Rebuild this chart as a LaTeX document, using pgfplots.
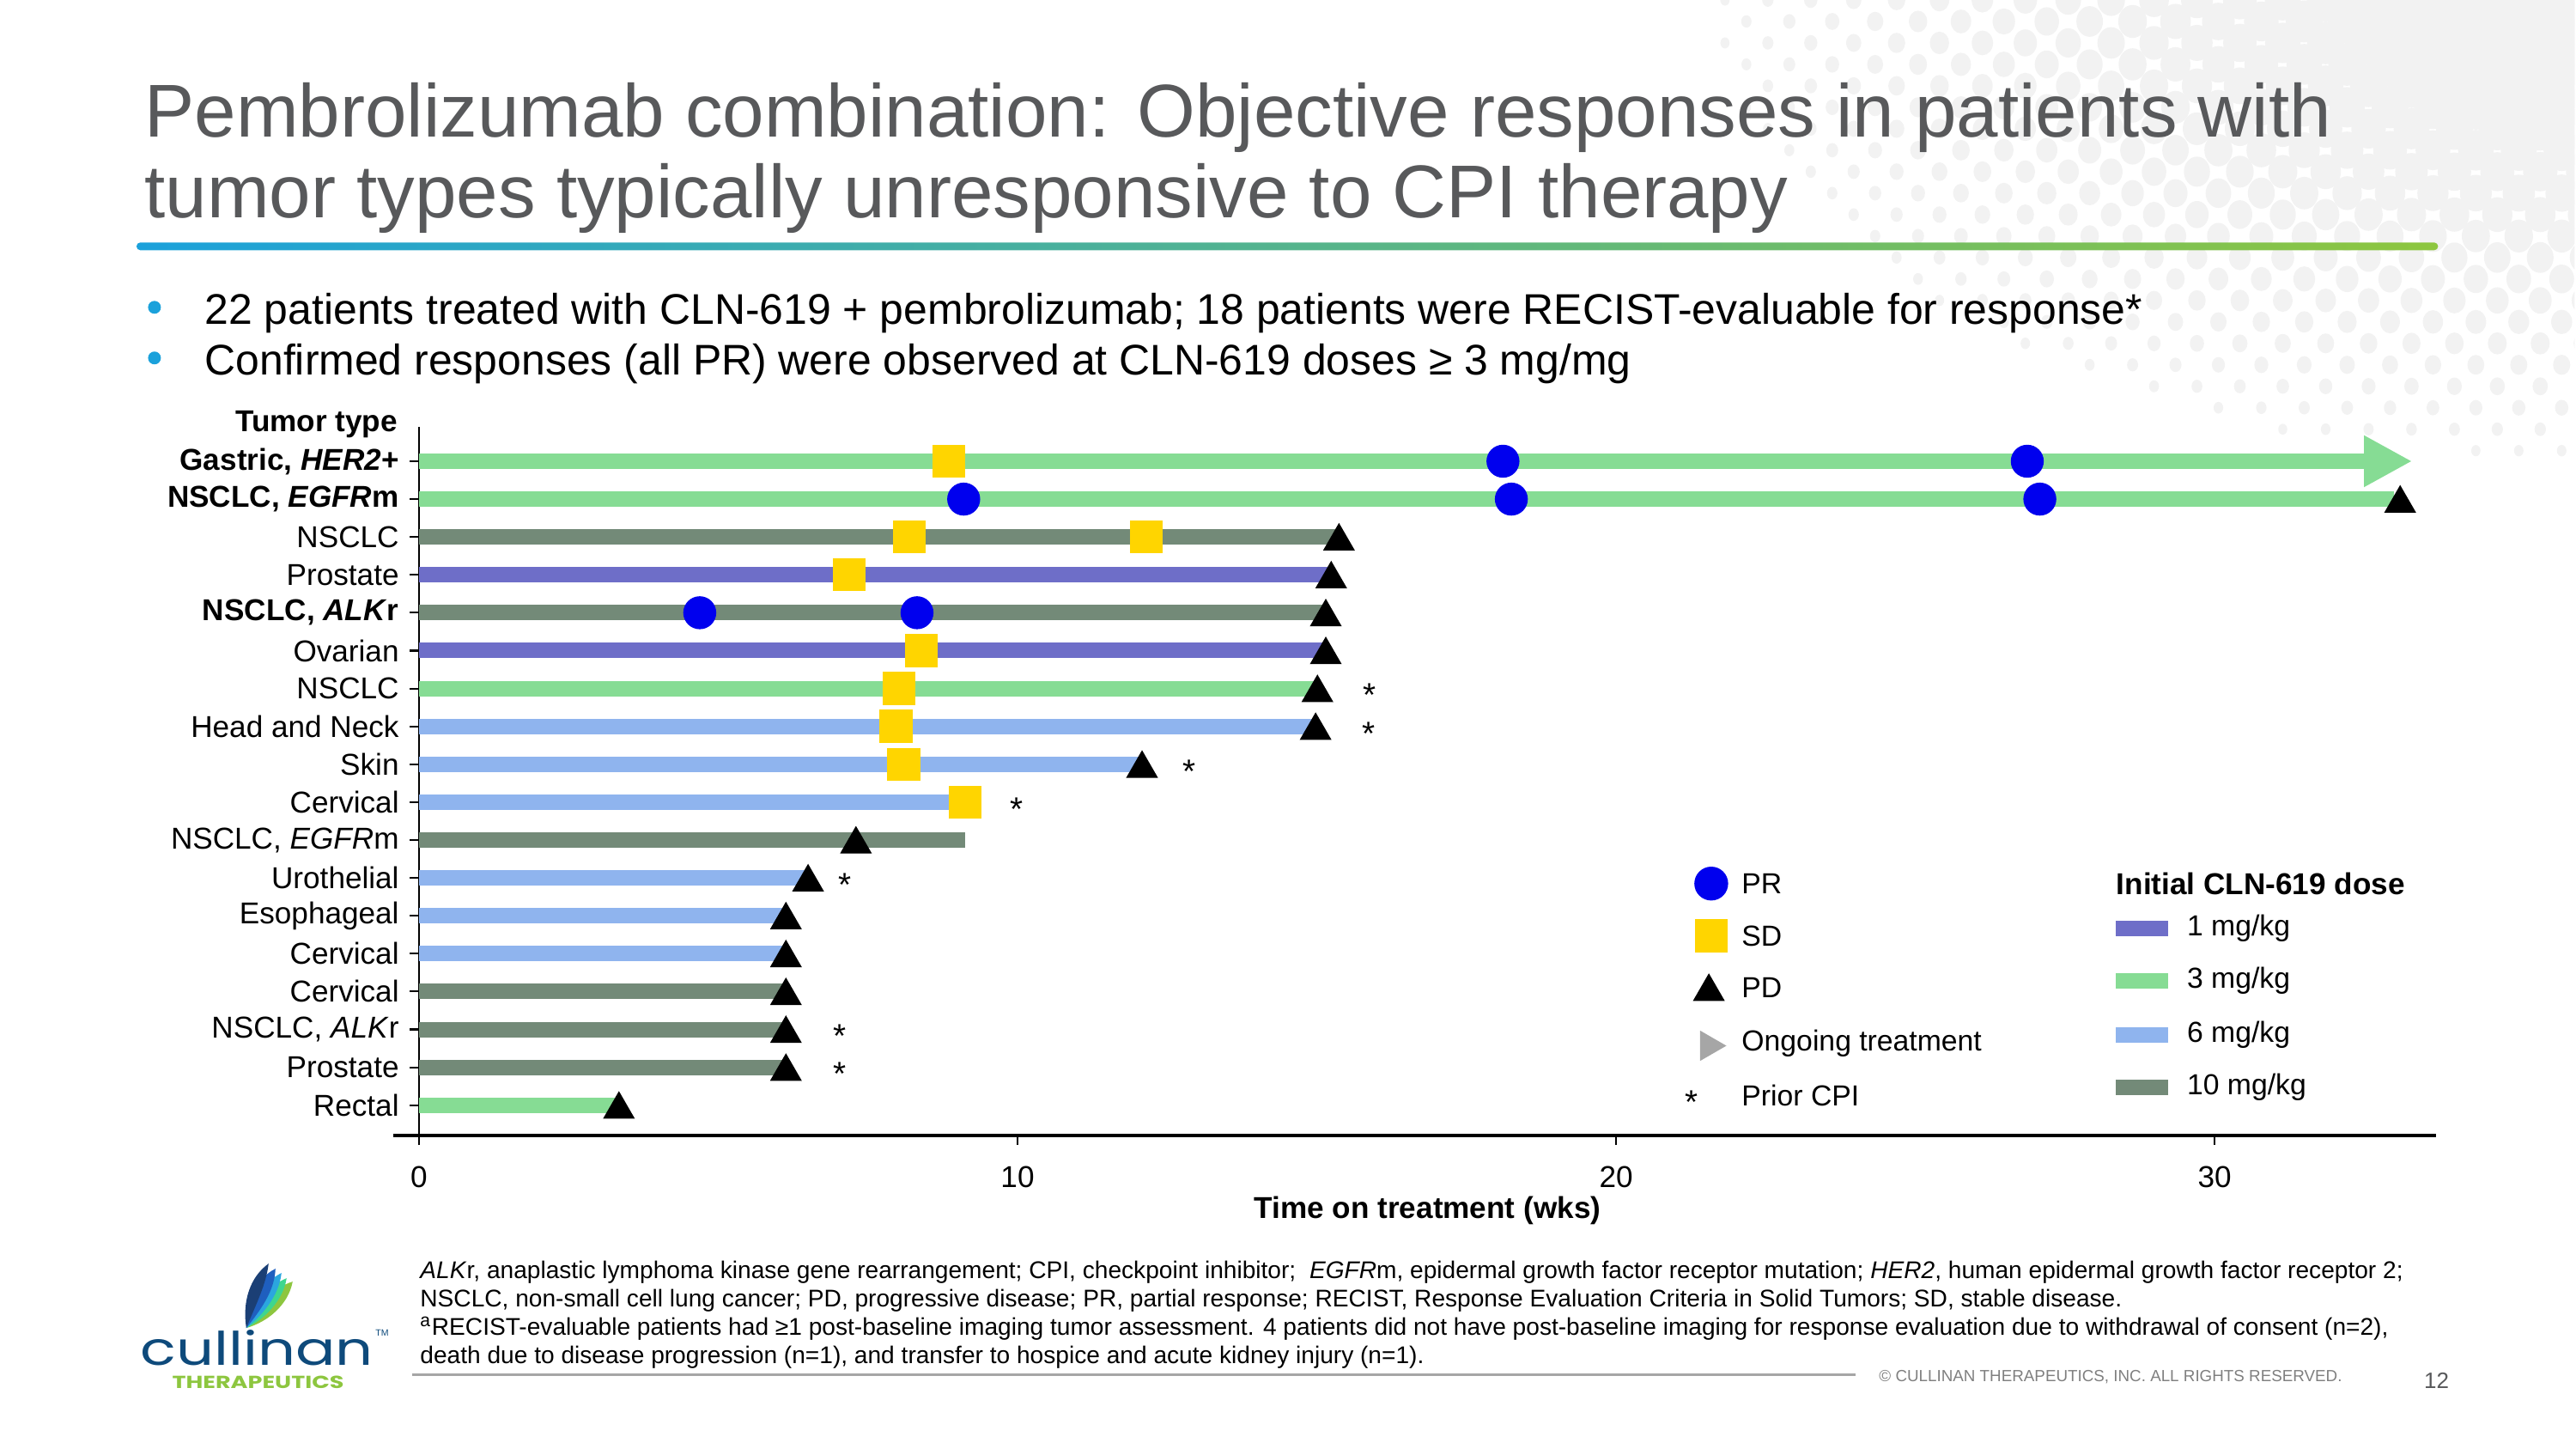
\documentclass[border=0pt]{standalone}
\usepackage{fontspec}
\setmainfont{Liberation Sans}
\newfontfamily\logofont{Poppins}
\usepackage{graphicx}
\usepackage{pgfplots}
\pgfplotsset{compat=1.18}
\usetikzlibrary{arrows.meta}

\definecolor{titlegray}{HTML}{58595B}
\definecolor{lineblue}{HTML}{1BA1DB}
\definecolor{linegreen}{HTML}{8DC63F}
\definecolor{dotgray}{HTML}{F2F2F2}
\definecolor{dose1}{HTML}{6E6EC8}
\definecolor{dose3}{HTML}{86DC94}
\definecolor{dose6}{HTML}{8FB4EE}
\definecolor{dose10}{HTML}{738A78}
\definecolor{sdyellow}{HTML}{FFD500}
\definecolor{prblue}{HTML}{0000EE}
\definecolor{ongray}{HTML}{A6A6A6}
\definecolor{rulegray}{HTML}{A6A6A6}
\definecolor{copygray}{HTML}{7F7F7F}
\definecolor{logonavy}{HTML}{0E4A7B}
\definecolor{leafnavy}{HTML}{1B3F75}
\definecolor{leafblue}{HTML}{1F5FBF}
\definecolor{leafcyan}{HTML}{2BA6DF}
\definecolor{leafteal}{HTML}{3ED68F}

\newcommand{\labfont}{\fontsize{10pt}{12pt}\selectfont}
\newcommand{\legfont}{\fontsize{9.6pt}{11pt}\selectfont}
\newcommand{\notefont}{\fontsize{8pt}{9.6pt}\selectfont}
\newcommand{\bulfont}{\fontsize{14.2pt}{14.2pt}\selectfont}

\pgfplotsset{
  bar/.style={line width=0.18cm, unbounded coords=jump},
  cpi/.style={only marks, mark=text, text mark as node=true,
    text mark={\fontsize{11pt}{11pt}\selectfont *},
    text mark style={inner sep=0pt, yshift=-0.08cm}},
}

\begin{document}
\begin{tikzpicture}
\path[use as bounding box] (0,0) rectangle (30cm,-16.87cm);

\begin{scope}[x=0.01cm,y=-0.01cm]
  % halftone dots, top right
  \begin{scope}
    \clip (1900,0) rectangle (3000,600);
    \foreach \j in {0,...,24}{
      \foreach \i in {0,...,22}{
        \pgfmathsetmacro{\xx}{3010-\i*50-mod(\j,2)*25}
        \pgfmathsetmacro{\yy}{\j*25}
        \pgfmathsetmacro{\sz}{1-sqrt(((3000-\xx)/1050)^2+(\yy/560)^2)}
        \ifdim\sz pt>0.05pt
          \fill[dotgray] (\xx,\yy) ellipse ({4+25*\sz} and {5+28*\sz});
        \fi
      }
    }
  \end{scope}

  % title
  \node[anchor=base west, inner sep=0, text=titlegray, font=\fontsize{24.8pt}{24.8pt}\selectfont]
    at (168,160) {Pembrolizumab combination: Objective responses in patients with};
  \node[anchor=base west, inner sep=0, text=titlegray, font=\fontsize{24.8pt}{24.8pt}\selectfont]
    at (168,254) {tumor types typically unresponsive to CPI therapy};
  \shade[left color=lineblue, right color=linegreen, rounded corners=0.045cm]
    (159,282.5) rectangle (2841,291.5);

  % bullets
  \fill[lineblue] (180,358) circle (7.5);
  \fill[lineblue] (180,417) circle (7.5);
  \node[anchor=base west, inner sep=0, font=\bulfont] at (238,378)
    {22 patients treated with CLN-619 + pembrolizumab; 18 patients were RECIST-evaluable for response*};
  \node[anchor=base west, inner sep=0, font=\bulfont] at (238,437)
    {Confirmed responses (all PR) were observed at CLN-619 doses ≥ 3 mg/mg};

  \node[anchor=base east, inner sep=0, font=\bfseries\labfont] at (464,503) {Tumor type};

  % footnotes
  \node[anchor=base west, inner sep=0, font=\notefont] at (489,1489)
    {\textit{ALK}r, anaplastic lymphoma kinase gene rearrangement; CPI, checkpoint inhibitor;\ \ \textit{EGFR}m, epidermal growth factor receptor mutation; \textit{HER2}, human epidermal growth factor receptor 2;};
  \node[anchor=base west, inner sep=0, font=\notefont] at (489,1522)
    {NSCLC, non-small cell lung cancer; PD, progressive disease; PR, partial response; RECIST, Response Evaluation Criteria in Solid Tumors; SD, stable disease.};
  \node[anchor=base west, inner sep=0, font=\notefont] at (489,1555)
    {\textsuperscript{a}RECIST-evaluable patients had ≥1 post-baseline imaging tumor assessment. 4 patients did not have post-baseline imaging for response evaluation due to withdrawal of consent (n=2),};
  \node[anchor=base west, inner sep=0, font=\notefont] at (489,1588)
    {death due to disease progression (n=1), and transfer to hospice and acute kidney injury (n=1).};
  \draw[rulegray, line width=0.03cm] (480,1601) -- (2162,1601);
  \node[anchor=base west, inner sep=0, text=copygray, font=\fontsize{5.35pt}{6pt}\selectfont] at (2189,1609)
    {\textcopyright{} CULLINAN THERAPEUTICS, INC. ALL RIGHTS RESERVED.};
  \node[anchor=base west, inner sep=0, text=titlegray, font=\fontsize{7.4pt}{8pt}\selectfont] at (2824,1617) {12};

  % logo
  \fill[linegreen] (287,1547) .. controls (300,1520) and (318,1500) .. (341,1493) .. controls (336,1520) and (312,1540) .. (287,1547);
  \fill[leafteal] (287,1547) .. controls (297,1518) and (312,1498) .. (334,1489) .. controls (330,1515) and (308,1537) .. (287,1547);
  \fill[leafcyan] (287,1547) .. controls (295,1515) and (307,1493) .. (328,1483) .. controls (325,1510) and (305,1533) .. (287,1547);
  \fill[leafblue] (287,1547) .. controls (291,1512) and (300,1488) .. (321,1478) .. controls (320,1505) and (302,1528) .. (287,1547);
  \fill[leafnavy] (287,1547) .. controls (282,1515) and (292,1487) .. (313,1472) .. controls (310,1497) and (298,1520) .. (287,1547);
  \node[anchor=base west, inner sep=0, text=logonavy] at (163,1590)
    {\resizebox{2.71cm}{0.41cm}{\logofont cullinan}};
  \node[anchor=base west, inner sep=0, text=logonavy, font=\fontsize{3pt}{3pt}\selectfont] at (437,1556) {TM};
  \node[anchor=base west, inner sep=0, text=linegreen] at (200,1617)
    {\resizebox{2.0cm}{0.145cm}{\logofont\bfseries THERAPEUTICS}};
\end{scope}

\begin{axis}[
  at={(4.88cm,-13.22cm)}, anchor=south west,
  scale only axis, width=23.49cm, height=8.247cm,
  xmin=0, xmax=33.7, ymin=0.2, ymax=18.9,
  axis lines*=left, clip=false,
  x axis line style={line width=1.2pt},
  y axis line style={line width=0.8pt},
  tick align=outside, major tick length=0.11cm,
  tick style={black, line width=0.6pt},
  xtick={0,10,20,30}, ytick={1,...,18},
  yticklabels={Rectal, Prostate, {NSCLC, \textit{ALK}r}, Cervical, Cervical, Esophageal, Urothelial,
    {NSCLC, \textit{EGFR}m}, Cervical, Skin, Head and Neck, NSCLC, Ovarian,
    {\textbf{NSCLC, \textit{ALK}r}}, Prostate, NSCLC, {\textbf{NSCLC, \textit{EGFR}m}},
    {\textbf{Gastric, \textit{HER2}+}}},
  ticklabel style={font=\labfont},
  /pgf/number format/assume math mode=true,
  xticklabel style={yshift=-0.13cm},
  xlabel={Time on treatment (wks)},
  xlabel style={font=\bfseries\labfont, at={(axis description cs:0.5,0)}, anchor=base, yshift=-0.96cm},
]
% bars by initial dose
\addplot[bar, dose1] coordinates {(0,15) (15.24,15) (nan,nan) (0,13) (15.15,13)};
\addplot[bar, dose3] coordinates {(0,17) (33.0,17) (nan,nan) (0,12) (15.01,12) (nan,nan) (0,1) (3.34,1)};
\addplot[bar, dose3, -{Triangle[length=0.56cm, width=0.56cm]}] coordinates {(0,18) (33.3,18)};
\addplot[bar, dose6] coordinates {(0,11) (14.98,11) (nan,nan) (0,10) (12.08,10) (nan,nan) (0,9) (9.12,9)
  (nan,nan) (0,7) (6.5,7) (nan,nan) (0,6) (6.13,6) (nan,nan) (0,5) (6.13,5)};
\addplot[bar, dose10] coordinates {(0,16) (15.37,16) (nan,nan) (0,14) (15.15,14) (nan,nan) (0,8) (9.12,8)
  (nan,nan) (0,4) (6.13,4) (nan,nan) (0,3) (6.13,3) (nan,nan) (0,2) (6.13,2)};

% SD
\addplot[only marks, mark=square*, mark size=0.185cm, sdyellow] coordinates {
  (8.85,18) (8.19,16) (12.15,16) (7.19,15) (8.39,13) (8.02,12) (7.97,11) (8.10,10) (9.12,9)};
% PR
\addplot[only marks, mark=*, mark size=0.185cm, prblue] coordinates {
  (18.11,18) (26.87,18) (9.10,17) (18.25,17) (27.08,17) (4.69,14) (8.32,14)};
% PD
\addplot[only marks, mark=triangle*, mark size=0.2cm, black, mark options={yshift=-0.05cm}] coordinates {
  (33.1,17) (15.37,16) (15.24,15) (15.15,14) (15.15,13) (15.01,12) (14.98,11) (12.08,10)
  (7.30,8) (6.5,7) (6.13,6) (6.13,5) (6.13,4) (6.13,3) (6.13,2) (3.34,1)};
% prior CPI
\addplot[cpi] coordinates {
  (15.88,12) (15.87,11) (12.87,10) (9.99,9) (7.11,7) (7.03,3) (7.03,2)};

% legend: response
\addplot[only marks, mark=*, mark size=0.19cm, prblue] coordinates {(21.59,6.85)};
\addplot[only marks, mark=square*, mark size=0.185cm, sdyellow] coordinates {(21.59,5.47)};
\addplot[only marks, mark=triangle*, mark size=0.2cm, black, mark options={yshift=-0.05cm}] coordinates {(21.55,4.11)};
\addplot[only marks, mark=triangle*, mark size=0.19cm, ongray, mark options={rotate=-90, xshift=0.04cm}] coordinates {(21.55,2.66)};
\addplot[cpi] coordinates {(21.26,1.25)};
\node[anchor=west, inner sep=0, font=\legfont] at (axis cs:22.09,6.85) {PR};
\node[anchor=west, inner sep=0, font=\legfont] at (axis cs:22.09,5.47) {SD};
\node[anchor=west, inner sep=0, font=\legfont] at (axis cs:22.09,4.11) {PD};
\node[anchor=west, inner sep=0, font=\legfont] at (axis cs:22.09,2.63) {Ongoing treatment};
\node[anchor=west, inner sep=0, font=\legfont] at (axis cs:22.09,1.25) {Prior CPI};

% legend: dose
\node[anchor=west, inner sep=0, font=\bfseries\fontsize{10pt}{12pt}\selectfont] at (axis cs:28.35,6.85) {Initial CLN-619 dose};
\addplot[bar, dose1] coordinates {(28.35,5.67) (29.22,5.67)};
\addplot[bar, dose3] coordinates {(28.35,4.29) (29.22,4.29)};
\addplot[bar, dose6] coordinates {(28.35,2.86) (29.22,2.86)};
\addplot[bar, dose10] coordinates {(28.35,1.48) (29.22,1.48)};
\node[anchor=west, inner sep=0, font=\legfont] at (axis cs:29.53,5.67) {1 mg/kg};
\node[anchor=west, inner sep=0, font=\legfont] at (axis cs:29.53,4.29) {3 mg/kg};
\node[anchor=west, inner sep=0, font=\legfont] at (axis cs:29.53,2.86) {6 mg/kg};
\node[anchor=west, inner sep=0, font=\legfont] at (axis cs:29.53,1.48) {10 mg/kg};

% x axis stub left of the y axis
\draw[line width=1.2pt] (axis cs:-0.43,0.2) -- (axis cs:0,0.2);
\end{axis}
\end{tikzpicture}
\end{document}
